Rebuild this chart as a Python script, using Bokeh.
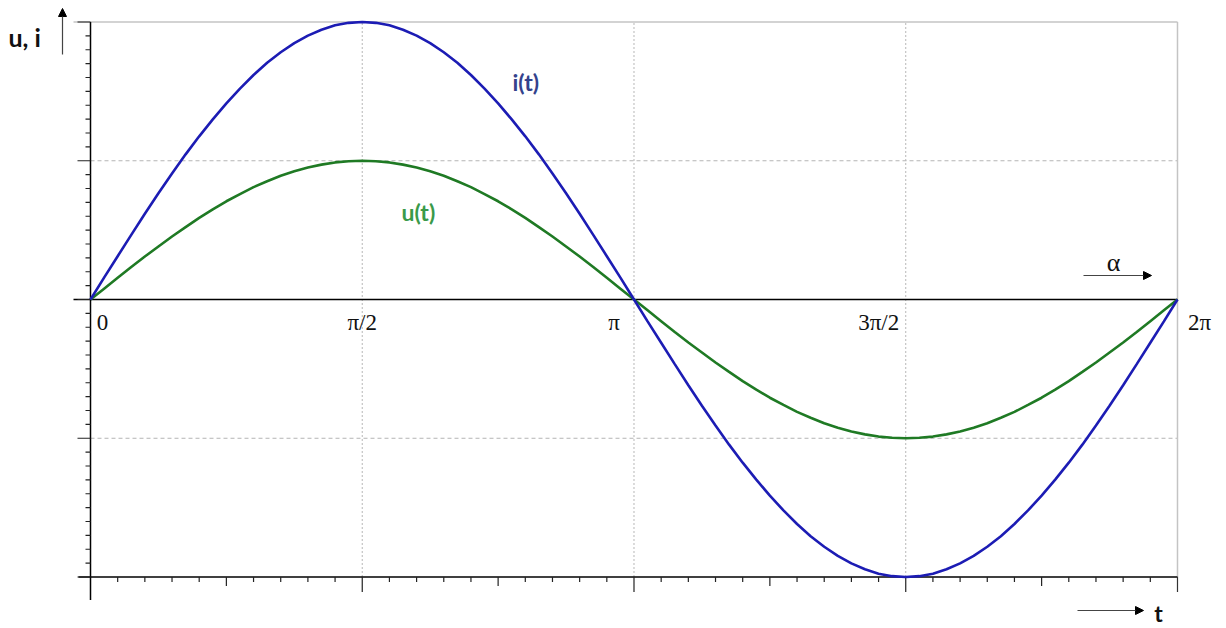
import math
from bokeh.plotting import figure
from bokeh.models import Range1d, Arrow, NormalHead
from bokeh.core.properties import value
from bokeh.embed import file_html
from bokeh.resources import INLINE

PI = math.pi

t_over_pi = [k / 40 for k in range(81)]
i_vals = [0.000, 0.079, 0.156, 0.233, 0.309, 0.383, 0.454, 0.523, 0.588, 0.649,
          0.707, 0.760, 0.809, 0.853, 0.891, 0.924, 0.951, 0.972, 0.988, 0.997,
          1.000, 0.997, 0.988, 0.972, 0.951, 0.924, 0.891, 0.853, 0.809, 0.760,
          0.707, 0.649, 0.588, 0.523, 0.454, 0.383, 0.309, 0.233, 0.156, 0.079,
          0.000, -0.079, -0.156, -0.233, -0.309, -0.383, -0.454, -0.523, -0.588, -0.649,
          -0.707, -0.760, -0.809, -0.853, -0.891, -0.924, -0.951, -0.972, -0.988, -0.997,
          -1.000, -0.997, -0.988, -0.972, -0.951, -0.924, -0.891, -0.853, -0.809, -0.760,
          -0.707, -0.649, -0.588, -0.523, -0.454, -0.383, -0.309, -0.233, -0.156, -0.079,
          0.000]
u_vals = [0.000, 0.039, 0.078, 0.117, 0.155, 0.191, 0.227, 0.261, 0.294, 0.325,
          0.354, 0.380, 0.405, 0.426, 0.446, 0.462, 0.476, 0.486, 0.494, 0.498,
          0.500, 0.498, 0.494, 0.486, 0.476, 0.462, 0.446, 0.426, 0.405, 0.380,
          0.354, 0.325, 0.294, 0.261, 0.227, 0.191, 0.155, 0.117, 0.078, 0.039,
          0.000, -0.039, -0.078, -0.117, -0.155, -0.191, -0.227, -0.261, -0.294, -0.325,
          -0.354, -0.380, -0.405, -0.426, -0.446, -0.462, -0.476, -0.486, -0.494, -0.498,
          -0.500, -0.498, -0.494, -0.486, -0.476, -0.462, -0.446, -0.426, -0.405, -0.380,
          -0.354, -0.325, -0.294, -0.261, -0.227, -0.191, -0.155, -0.117, -0.078, -0.039,
          0.000]
x_tick_values = [0, PI / 2, PI, 3 * PI / 2, 2 * PI]
x_tick_labels = ["0", "π/2", "π", "3π/2", "2π"]
y_grid_values = [0.5, -0.5]
x_grid_values = [PI / 2, PI, 3 * PI / 2]

t = [v * PI for v in t_over_pi]

W, H = 1226, 628
SX = 173.0    # px per radian
SY = 277.5    # px per unit
x0 = -90 / SX
x1 = x0 + W / SX
y1 = 299 / SY
y0 = y1 - H / SY

def px(dx):
    return dx / SX

def py(dy):
    return dy / SY

p = figure(width=W, height=H, x_range=Range1d(x0, x1), y_range=Range1d(y0, y1),
           output_backend="svg", toolbar_location=None,
           x_axis_location=None, y_axis_location=None, min_border=0,
           outline_line_color=None, background_fill_color="white")
p.xgrid.visible = False
p.ygrid.visible = False

TMAX = 2 * PI

# grid lines
p.segment(x0=[0] * len(y_grid_values), x1=[TMAX] * len(y_grid_values),
          y0=y_grid_values, y1=y_grid_values,
          line_color="#b4b4b4", line_width=1, line_dash="4 3")
p.segment(x0=x_grid_values, x1=x_grid_values, y0=[-1] * 3, y1=[1] * 3,
          line_color="#b8b8b8", line_width=1, line_dash="2 2")
# top and right frame lines (light)
p.segment(x0=[px(-17)], x1=[TMAX], y0=[1], y1=[1], line_color="#c4c4c4", line_width=1.5)
p.segment(x0=[TMAX], x1=[TMAX], y0=[1], y1=[-1], line_color="#c4c4c4", line_width=1.5)

# axes
p.segment(x0=[px(-17)], x1=[TMAX], y0=[0], y1=[0], line_color="black", line_width=1.5)
p.segment(x0=[px(-12)], x1=[TMAX], y0=[-1], y1=[-1], line_color="black", line_width=1.5)
p.segment(x0=[0], x1=[0], y0=[1], y1=[-1 - py(23)], line_color="black", line_width=1.5)
p.segment(x0=[TMAX], x1=[TMAX], y0=[-1], y1=[-1 - py(15)], line_color="#333333", line_width=1.2)

# left ticks
ly = [k * 0.05 - 1 for k in range(41)]
lx0 = []
for v in ly:
    major = abs(round(v / 0.5) * 0.5 - v) < 1e-6
    lx0.append(px(-13) if major else px(-5))
p.segment(x0=lx0, x1=[0] * len(ly), y0=ly, y1=ly, line_color="#222222", line_width=1.2)

# bottom ticks
bx = [k * PI / 20 for k in range(1, 40)]
by1 = []
for k in range(1, 40):
    if k % 10 == 0:
        by1.append(-1 - py(15))
    elif k % 5 == 0:
        by1.append(-1 - py(9))
    else:
        by1.append(-1 - py(5))
p.segment(x0=bx, x1=bx, y0=[-1] * len(bx), y1=by1, line_color="#222222", line_width=1.2)

# curves
p.line(t, u_vals, line_color="#1f7a24", line_width=2.6)
p.line(t, i_vals, line_color="#1c1cb4", line_width=2.6)

# tick labels on the zero line
label_dx = [12, 0, -20, -27, 22]
p.text(x=[v + px(d) for v, d in zip(x_tick_values, label_dx)], y=[-py(23)] * 5,
       text=x_tick_labels, text_font=value("Liberation Serif"), text_font_size="23px",
       text_align="center", text_baseline="middle", text_color="#111111")

# curve labels
p.text(x=[px(512 - 90)], y=[py(299 - 81)], text=["i(t)"], text_font=value("Lato"),
       text_font_style="bold", text_font_size="23px", text_color="#34428c",
       text_align="left", text_baseline="middle")
p.text(x=[px(401 - 90)], y=[py(299 - 211)], text=["u(t)"], text_font=value("Lato"),
       text_font_style="bold", text_font_size="23px", text_color="#3a9a4a",
       text_align="left", text_baseline="middle")

# axis names
p.text(x=[px(8 - 90)], y=[py(299 - 36)], text=["u, i"], text_font=value("Lato"),
       text_font_style="bold", text_font_size="25px", text_color="#111111",
       text_align="left", text_baseline="middle")
p.text(x=[px(1158 - 90)], y=[py(299 - 612)], text=["t"], text_font=value("Lato"),
       text_font_style="bold", text_font_size="23px", text_color="#111111",
       text_align="center", text_baseline="middle")
p.text(x=[px(1113 - 90)], y=[py(299 - 262)], text=["α"], text_font=value("Liberation Serif"),
       text_font_size="26px", text_color="#111111",
       text_align="center", text_baseline="middle")

# arrows
def arrow(xa, ya, xb, yb):
    p.add_layout(Arrow(end=NormalHead(size=8, fill_color="black", line_color="black"),
                       x_start=px(xa - 90), y_start=py(299 - ya),
                       x_end=px(xb - 90), y_end=py(299 - yb),
                       line_color="#444444", line_width=1.2))

arrow(62, 54, 62, 8)
arrow(1083, 275, 1151, 275)
arrow(1077, 610, 1143, 610)

open("out.html", "w").write(file_html(p, INLINE))
